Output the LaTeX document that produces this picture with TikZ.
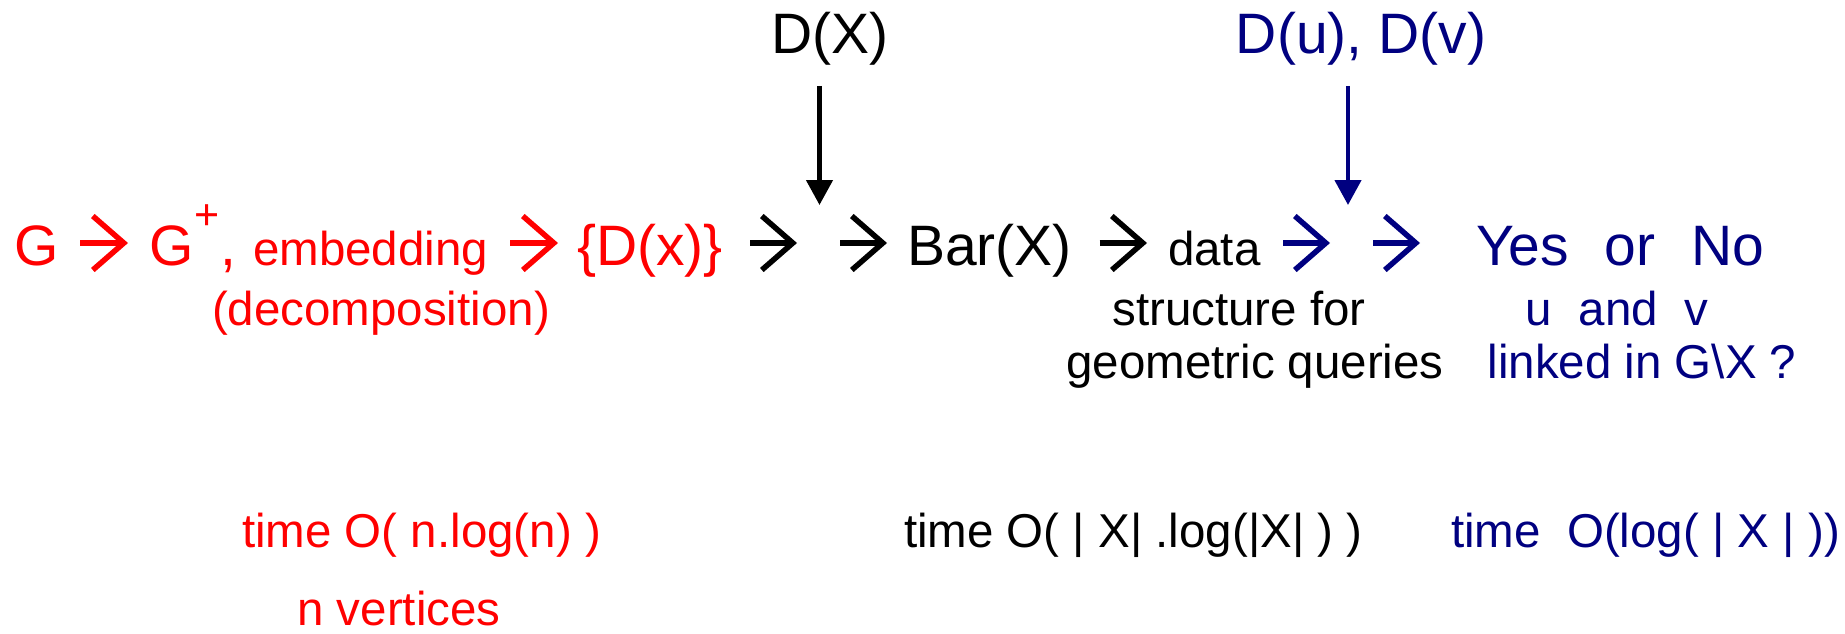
\documentclass[tikz,border=0pt]{standalone}
\usepackage{fontspec}
\setmainfont{Liberation Sans}
\usetikzlibrary{arrows.meta,calc}
\definecolor{myred}{HTML}{FF0000}
\definecolor{mynavy}{HTML}{000080}
\newcommand{\bigf}{\fontsize{57pt}{68pt}\selectfont}
\newcommand{\medf}{\fontsize{47.5pt}{57pt}\selectfont}
\newcommand{\plusf}{\fontsize{43pt}{50pt}\selectfont}
\begin{document}
\begin{tikzpicture}[x=1pt,y=-1pt,
  txt/.style={inner sep=0pt,outer sep=0pt,anchor=base west},
  ctxt/.style={inner sep=0pt,outer sep=0pt,anchor=base},
  rarr/.style={draw=#1,line width=5.5pt,-{Straight Barb[length=31pt,width=54pt,sharp]}},
  varr/.style={draw=#1,line width=4.5pt,-{Triangle[length=25pt,width=26pt]},fill=#1}]
\useasboundingbox (0,0) rectangle (1845,633);

% top labels
\node[ctxt,font=\bigf] (nDX) at (830,53) {D(X)};
\node[ctxt,font=\bigf,text=mynavy] (nDuv) at (1361,53) {D(u), D(v)};
\coordinate (j1) at (819.5,205);
\coordinate (j2) at (1348,205);

% main row
\node[txt,font=\bigf,text=myred] (nG) at (14,265) {G};
\node[txt,font=\bigf,text=myred] (nGp) at (149,265) {G};
\node[inner sep=0pt,font=\plusf,text=myred] (nplus) at (207.5,217.5) {+};
\node[txt,text=myred] (nemb) at (220,265) {{\bigf ,}\hspace{4pt}{\medf\ embedding}};
\node[txt,font=\bigf,text=myred] (nDx) at (577,265) {\{D(x)\}};
\node[txt,font=\bigf] (nBar) at (907,265) {Bar(X)};
\node[txt,font=\medf] (ndata) at (1168,265) {data};
\node[txt,font=\bigf,text=mynavy] (nyes) at (1476,265) {Yes\hspace{36pt}or\hspace{36pt}No};

% second and third rows
\node[ctxt,font=\medf,text=myred] (ndec) at (381,325) {(decomposition)};
\node[ctxt,font=\medf] (nstr) at (1239,325) {structure for};
\node[ctxt,font=\medf] (ngeo) at (1255,378) {geometric queries};
\node[ctxt,font=\medf,text=mynavy] (nuv) at (1617,325) {u~~and~~v};
\node[ctxt,font=\medf,text=mynavy] (nlink) at (1642,378) {linked in G\textbackslash X ?};

% bottom rows
\node[txt,font=\medf,text=myred] (ntime1) at (242,547) {time O( n.log(n) )};
\node[ctxt,font=\medf,text=myred] (nvert) at (399,625) {n vertices};
\node[txt,font=\medf] (ntime2) at (904,547) {time O( | X| .log(|X| ) )};
\node[txt,font=\medf,text=mynavy] (ntime3) at (1451,547) {time~~O(log( | X | ))};

% vertical arrows
\draw[varr=black,shorten <=21pt] (nDX.south -| j1) -- (j1);
\draw[varr=mynavy,shorten <=21pt] (nDuv.south -| j2) -- (j2);

% inline arrows
\draw[rarr=myred] ([xshift=21.7pt,yshift=22pt]nG.base east) -- ([xshift=-21pt,yshift=22pt]nGp.base west);
\draw[rarr=myred] ([xshift=22pt,yshift=22pt]nemb.base east) -- ([xshift=-19pt,yshift=22pt]nDx.base west);
\draw[rarr=black] ([xshift=27.3pt,yshift=22pt]nDx.base east) -- ($(j1)+(-22.5,38)$);
\draw[rarr=black] ($(j1)+(20.5,38)$) -- ([xshift=-20pt,yshift=22pt]nBar.base west);
\draw[rarr=black] ([xshift=28pt,yshift=22pt]nBar.base east) -- ([xshift=-21pt,yshift=22pt]ndata.base west);
\draw[rarr=mynavy] ([xshift=22.6pt,yshift=22pt]ndata.base east) -- ($(j2)+(-18,38)$);
\draw[rarr=mynavy] ($(j2)+(25,38)$) -- ([xshift=-56pt,yshift=22pt]nyes.base west);
\end{tikzpicture}
\end{document}
